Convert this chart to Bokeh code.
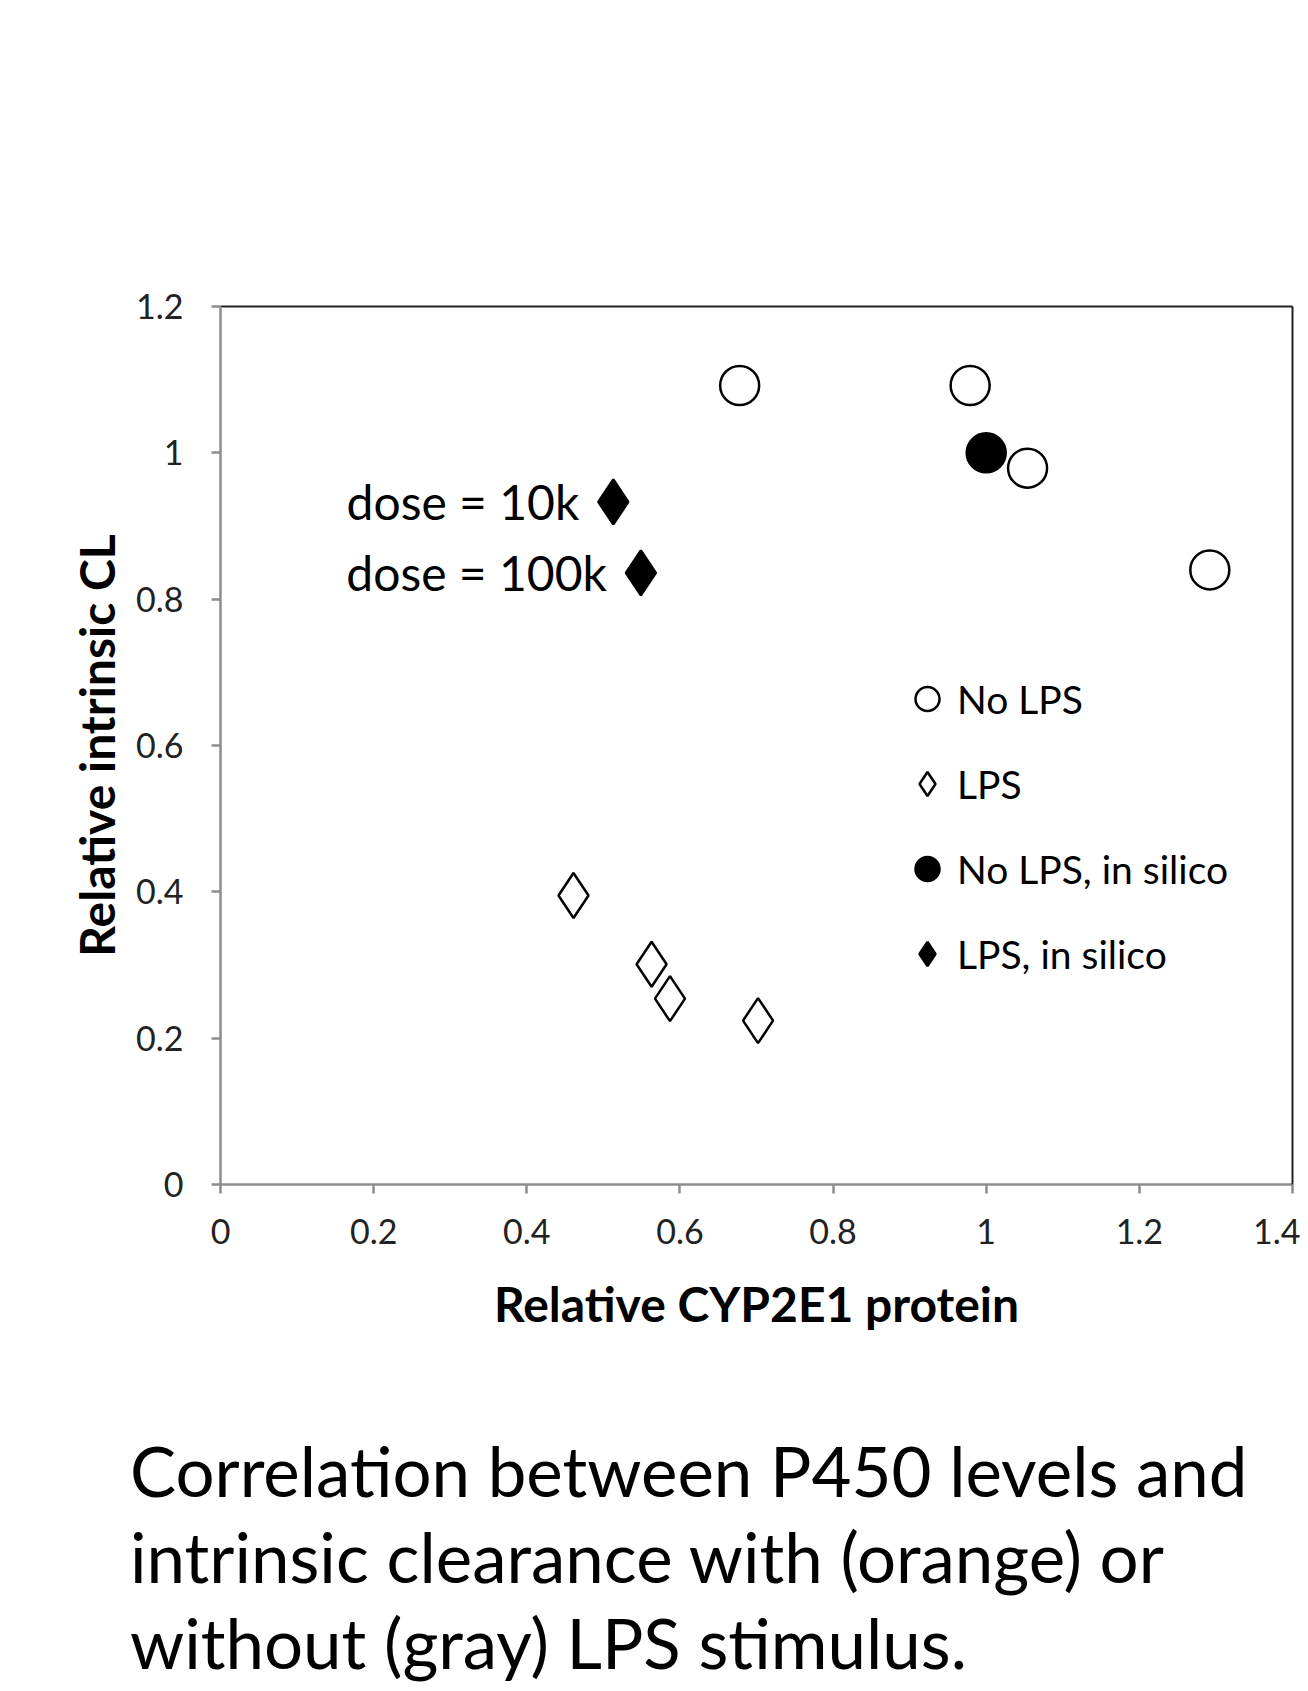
from bokeh.plotting import figure
from bokeh.models import (ColumnDataSource, FixedTicker, LinearAxis, Legend, LegendItem,
                          LabelSet, Range1d, Div)
from bokeh.layouts import column
from bokeh.core.properties import value
from bokeh.embed import file_html
from bokeh.resources import INLINE

# ---- data ----
nolps_x = [0.678, 0.979, 1.054, 1.292]
nolps_y = [1.092, 1.092, 0.979, 0.840]

lps_x = [0.461, 0.563, 0.587, 0.702]
lps_y = [0.395, 0.301, 0.254, 0.224]

nolps_sil_x = [1.0]
nolps_sil_y = [1.0]

lps_sil_x = [0.513, 0.549]
lps_sil_y = [0.933, 0.836]
lps_sil_labels = ["dose = 10k", "dose = 100k"]

x_ticks = [0, 0.2, 0.4, 0.6, 0.8, 1.0, 1.2, 1.4]
x_tick_labels = ["0", "0.2", "0.4", "0.6", "0.8", "1", "1.2", "1.4"]
y_ticks = [0, 0.2, 0.4, 0.6, 0.8, 1.0, 1.2]
y_tick_labels = ["0", "0.2", "0.4", "0.6", "0.8", "1", "1.2"]

legend_labels = ["No LPS", "LPS", "No LPS, in silico", "LPS, in silico"]

caption_lines = ["Correlation between P450 levels and",
                 "intrinsic clearance with (orange) or",
                 "without (gray) LPS stimulus."]

FONT = "Lato"

p = figure(width=1300, height=1340, output_backend="svg", toolbar_location=None,
           x_range=Range1d(0, 1.4), y_range=Range1d(0, 1.2),
           min_border_left=220, min_border_right=8, min_border_top=306,
           min_border_bottom=156)
p.grid.visible = False
p.outline_line_color = None
p.background_fill_color = "white"
p.border_fill_color = "white"

for ax, ticks, labels in ((p.xaxis[0], x_ticks, x_tick_labels), (p.yaxis[0], y_ticks, y_tick_labels)):
    ax.ticker = FixedTicker(ticks=ticks)
    ax.major_label_overrides = {t: l for t, l in zip(ticks, labels)}
    ax.minor_tick_line_color = None
    ax.axis_line_color = "#8c8c8c"
    ax.axis_line_width = 2.5
    ax.major_tick_line_color = "#8c8c8c"
    ax.major_tick_line_width = 2.5
    ax.major_tick_in = 0
    ax.major_tick_out = 9
    ax.major_label_text_font = FONT
    ax.major_label_text_font_size = "34px"
    ax.major_label_text_color = "#222222"
    ax.axis_label_text_font = FONT
    ax.axis_label_text_font_style = "bold"
    ax.axis_label_text_font_size = "48px"
    ax.axis_label_text_color = "black"

p.xaxis[0].axis_label = "Relative CYP2E1 protein"
p.yaxis[0].axis_label = "Relative intrinsic CL"
p.xaxis[0].major_label_standoff = 25
p.xaxis[0].axis_label_standoff = 28
p.yaxis[0].major_label_standoff = 28
p.yaxis[0].axis_label_standoff = 8

# top/right frame lines
for side in ("above", "right"):
    ax = LinearAxis(ticker=FixedTicker(ticks=[]), axis_line_color="#222222", axis_line_width=2,
                    major_label_text_font_size="0px", major_tick_line_color=None,
                    minor_tick_line_color=None)
    p.add_layout(ax, side)

r1 = p.scatter(nolps_x, nolps_y, marker="circle", size=39, fill_color="white",
               line_color="black", line_width=2.5)
r2 = p.scatter(lps_x, lps_y, marker="diamond", size=45, fill_color="white",
               line_color="black", line_width=2.5)
r3 = p.scatter(nolps_sil_x, nolps_sil_y, marker="circle", size=39, fill_color="black",
               line_color="black", line_width=2.5)
src = ColumnDataSource(dict(x=lps_sil_x, y=lps_sil_y, label=lps_sil_labels))
r4 = p.scatter("x", "y", source=src, marker="diamond", size=45, fill_color="black",
               line_color="black", line_width=2.5)

labels = LabelSet(x="x", y="y", text="label", source=src, x_offset=-34, y_offset=0,
                  text_align="right", text_baseline="middle", text_font=value(FONT),
                  text_font_size="48px", text_color="black")
p.add_layout(labels)

legend = Legend(items=[LegendItem(label=legend_labels[0], renderers=[r1]),
                       LegendItem(label=legend_labels[1], renderers=[r2]),
                       LegendItem(label=legend_labels[2], renderers=[r3]),
                       LegendItem(label=legend_labels[3], renderers=[r4])],
                location=(677, 188), orientation="vertical",
                glyph_width=60, glyph_height=85, label_standoff=0, spacing=0,
                padding=0, margin=0, border_line_color=None, background_fill_alpha=0,
                label_text_font=FONT, label_text_font_size="39px", label_text_color="black",
                label_height=85)
p.add_layout(legend)

caption_html = ("<div style=\"font-family:Lato; font-size:69px; line-height:86px; "
                "padding-left:130px; padding-top:88px; color:black; white-space:nowrap;\">"
                + "<br>".join(caption_lines) + "</div>")
caption = Div(text=caption_html, width=1300, height=351, margin=(0, 0, 0, 0))

layout = column(p, caption, spacing=0)

open("out.html", "w").write(file_html(layout, INLINE))
